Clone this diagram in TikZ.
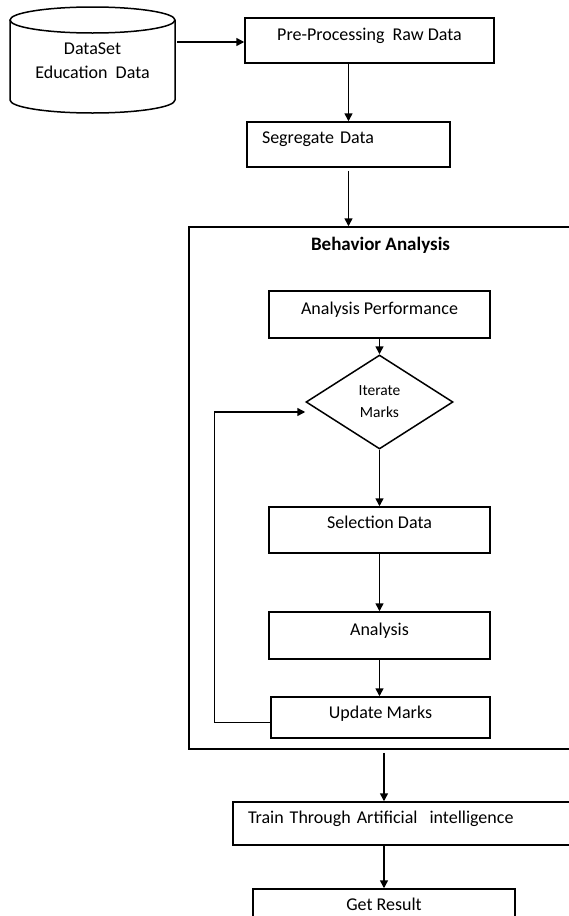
\documentclass[tikz,border=0pt]{standalone}
\usepackage{fontspec}
\setmainfont{Carlito}
\usepackage{tikz}
\usetikzlibrary{shapes.geometric}
\usetikzlibrary{arrows.meta}

\begin{document}
\begin{tikzpicture}[x=1pt, y=-1pt, line width=1.5pt, >={Triangle[length=8pt,width=8pt]},
    stepbox/.style={draw, rectangle, inner sep=0pt, font=\fontsize{18}{21}\selectfont, text height=12pt, text depth=#1},
    stepbox/.default=4pt]
    % Page area (569 x 916), boxes on the right run past the edge
    \useasboundingbox (0, 0) rectangle (569, 916);
    \clip (0, 0) rectangle (569, 916);

    % Data source drawn as a cylinder (top ellipse and body)
    \draw (92.5, 20) ellipse [x radius=82.5, y radius=13];
    \draw (10, 20) -- (10, 100) arc[start angle=180, end angle=0, x radius=82.5, y radius=13] -- (175, 20);
    \node[align=center, font=\fontsize{18}{24}\selectfont] (db) at (92.5, 61) {DataSet\\Education\ \ Data};
    \coordinate (dbside) at (177, 42);

    % First two steps
    \node[stepbox=12pt, minimum width=249pt, minimum height=45pt] (pre) at (369.5, 40.5) {Pre-Processing\ \ Raw Data};
    \node[stepbox=14pt, minimum width=203pt, minimum height=45pt, text width=173pt, align=left] (seg) at (348.5, 144.5) {Segregate Data};

    % Outer frame of the behavior analysis
    \node[draw, inner sep=0pt, minimum width=383pt, minimum height=522pt, label={[anchor=center, yshift=-19pt, font=\fontsize{19}{22}\selectfont\bfseries]north:Behavior Analysis}] (behav) at (380.5, 488) {};

    % Steps inside the frame
    \node[stepbox=12pt, minimum width=221pt, minimum height=47pt] (perf) at (379.5, 314.5) {Analysis Performance};
    \node[draw, diamond, aspect=1.5, inner sep=0pt, minimum width=147pt, minimum height=94pt, align=center, font=\fontsize{15.5}{22}\selectfont] (iter) at (379.5, 402) {Iterate\\Marks};
    \node[stepbox=15pt, minimum width=221pt, minimum height=46pt] (sel) at (379.5, 530) {Selection Data};
    \node[stepbox=12pt, minimum width=221pt, minimum height=47pt] (ana) at (379.5, 635.5) {Analysis};
    \node[stepbox=10pt, minimum width=219pt, minimum height=41pt] (upd) at (380.5, 717.5) {Update Marks};

    % Last two steps
    \node[stepbox=12pt, minimum width=342pt, minimum height=43pt, text width=312pt, align=left] (train) at (404, 823.5) {Train Through Artificial\ \ intelligence};
    \node[stepbox=15pt, minimum width=262pt, minimum height=46pt] (res) at (384, 912) {Get Result};

    % Arrows between the steps
    \draw[->] (dbside) -- (dbside -| pre.west);
    \draw[->] (pre.south -| seg.north) -- (seg.north);
    \draw[->] ([yshift=-3pt]seg.south) -- (seg.south |- behav.north);
    \draw[->] (perf.south) -- (iter.north);
    \draw[->] (iter.south) -- (sel.north);
    \draw[->] (sel.south) -- (ana.north);
    \draw[->] (ana.south) -- (ana.south |- upd.north);

    % Loop back from update to the decision
    \draw[->] ([yshift=-5pt]upd.west) -- ++(-56, 0) |- ([yshift=-10pt]iter.west);

    % Out of the frame to the end
    \draw[->] ([yshift=-3pt]behav.south -| res.north) -- (train.north -| res.north);
    \draw[->] (train.south -| res.north) -- (res.north);
\end{tikzpicture}
\end{document}
